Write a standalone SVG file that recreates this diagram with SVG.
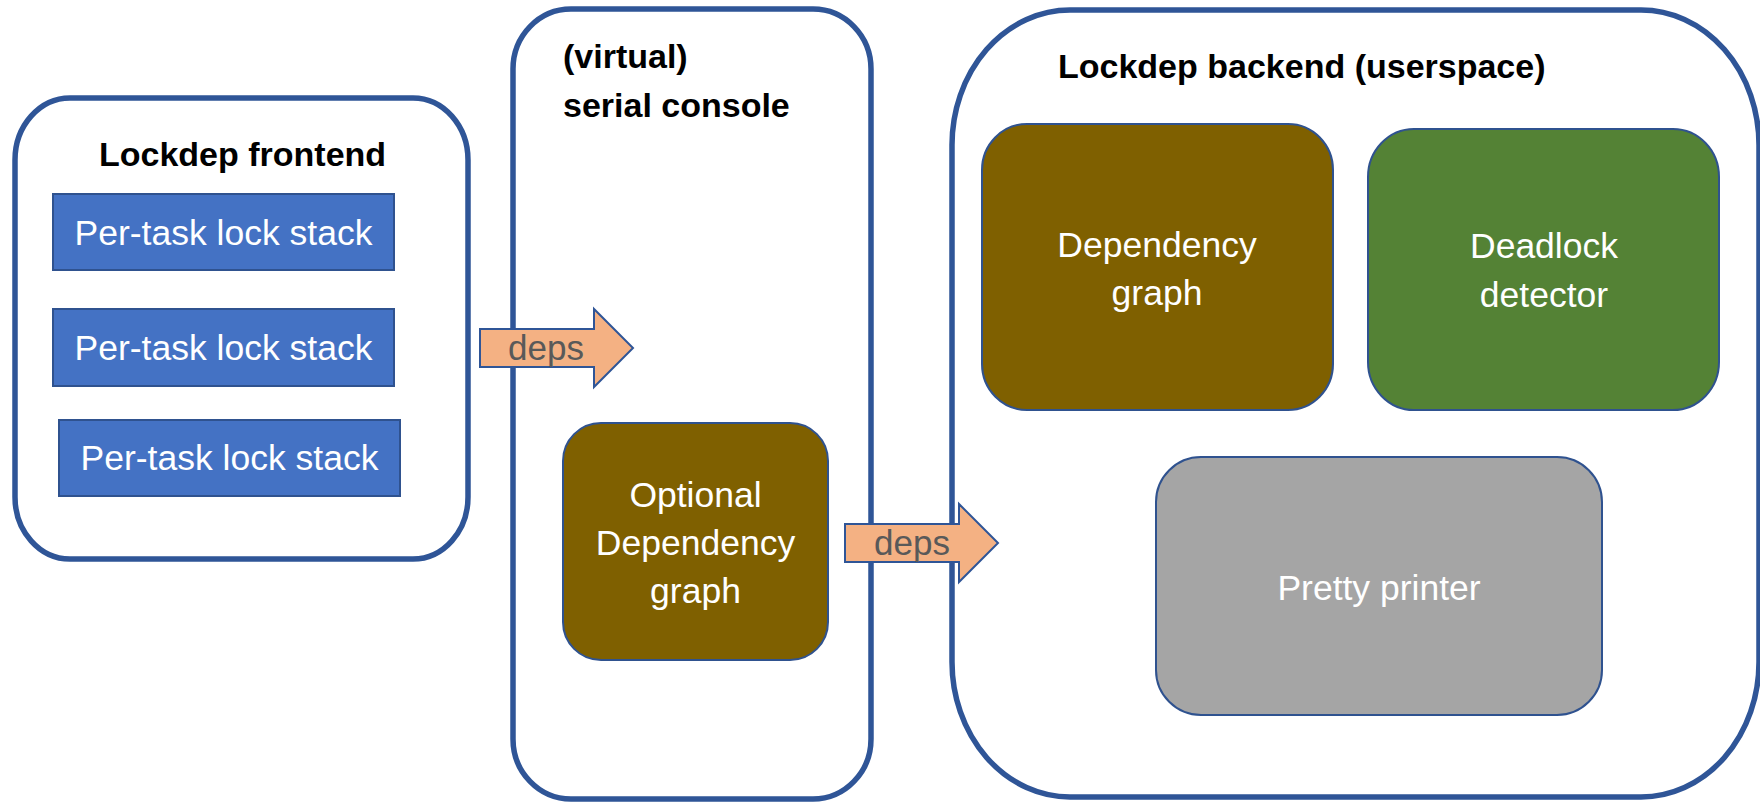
<svg xmlns="http://www.w3.org/2000/svg" width="1760" height="802" viewBox="0 0 1760 802">
<style>
.container{fill:none;stroke:#2F5597;stroke-width:5.5}
.title{font-family:"Liberation Sans",Arial,sans-serif;font-weight:bold;font-size:34px;fill:#000}
.lbl{font-family:"Liberation Sans",Arial,sans-serif;font-size:35.5px;fill:#fff;text-anchor:middle}
.stack{fill:#4472C4;stroke:#2F528F;stroke-width:2}
.box{stroke:#2F528F;stroke-width:2}
.brown{fill:#7F6000}
.green{fill:#548235}
.gray{fill:#A5A5A5}
.arrow{fill:#F4B183;stroke:#2F5597;stroke-width:2}
.deps{font-family:"Liberation Sans",Arial,sans-serif;font-size:35px;fill:#595959;text-anchor:middle}
</style>
<rect width="1760" height="802" fill="#fff"/>
<g id="frontend">
<rect class="container" x="15" y="98" width="453" height="461" rx="55" ry="62"/>
<text class="title" x="99" y="166">Lockdep frontend</text>
</g>
<g id="stack1">
<rect class="stack" x="53" y="194" width="341" height="76"/>
<text class="lbl" x="223.5" y="245">Per-task lock stack</text>
</g>
<g id="stack2">
<rect class="stack" x="53" y="309" width="341" height="77"/>
<text class="lbl" x="223.5" y="360">Per-task lock stack</text>
</g>
<g id="stack3">
<rect class="stack" x="59" y="420" width="341" height="76"/>
<text class="lbl" x="229.5" y="470">Per-task lock stack</text>
</g>
<g id="console">
<rect class="container" x="513" y="9" width="358" height="790" rx="58" ry="60"/>
<text class="title" x="563" y="68">(virtual)</text>
<text class="title" x="563" y="117">serial console</text>
</g>
<g id="optional-graph">
<rect class="box brown" x="563" y="423" width="265" height="237" rx="38" ry="38"/>
<text class="lbl" x="695.5" y="507">Optional</text>
<text class="lbl" x="695.5" y="555">Dependency</text>
<text class="lbl" x="695.5" y="603">graph</text>
</g>
<g id="backend">
<rect class="container" x="952" y="10" width="807" height="787" rx="118" ry="135"/>
<text class="title" x="1058" y="78">Lockdep backend (userspace)</text>
</g>
<g id="dependency-graph">
<rect class="box brown" x="982" y="124" width="351" height="286" rx="45" ry="46"/>
<text class="lbl" x="1157" y="257">Dependency</text>
<text class="lbl" x="1157" y="305">graph</text>
</g>
<g id="deadlock-detector">
<rect class="box green" x="1368" y="129" width="351" height="281" rx="46" ry="48"/>
<text class="lbl" x="1544" y="258">Deadlock</text>
<text class="lbl" x="1544" y="307">detector</text>
</g>
<g id="pretty-printer">
<rect class="box gray" x="1156" y="457" width="446" height="258" rx="45" ry="45"/>
<text class="lbl" x="1379" y="600">Pretty printer</text>
</g>
<g id="connectors">
<polygon class="arrow" points="480,329 594,329 594,309 633,348 594,387 594,367 480,367"/>
<text class="deps" x="546" y="360">deps</text>
<polygon class="arrow" points="845,524 959,524 959,504 998,543 959,582 959,562 845,562"/>
<text class="deps" x="912" y="555">deps</text>
</g>
</svg>
